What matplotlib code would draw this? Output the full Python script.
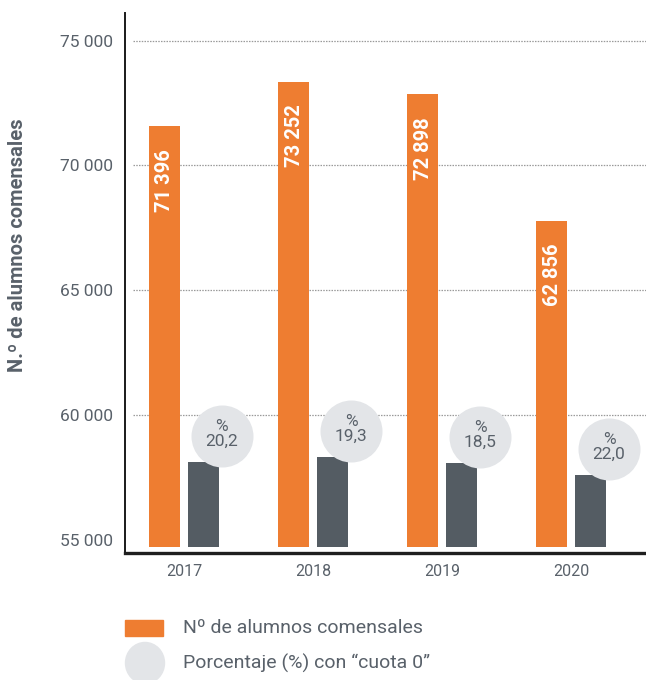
import matplotlib
matplotlib.use("Agg")
import matplotlib.pyplot as plt
import matplotlib.transforms as mtransforms
from matplotlib.patches import Rectangle, Circle

plt.rcParams['font.family'] = ['Roboto', 'DejaVu Sans']

# ---- data ----
years = ["2017", "2018", "2019", "2020"]
alumnos_bar = [71580, 73360, 72865, 67780]          # orange bar heights as drawn
alumnos_labels = ["71 396", "73 252", "72 898", "62 856"]
cuota0_bar = [58120, 58320, 58080, 57600]           # dark bar heights as drawn
cuota0_labels = ["20,2", "19,3", "18,5", "22,0"]
yticks = [55000, 60000, 65000, 70000, 75000]
ytick_labels = ["55 000", "60 000", "65 000", "70 000", "75 000"]
grid_vals = [60000, 65000, 70000, 75000]
legend_labels = ["Nº de alumnos comensales", "Porcentaje (%) con \u201ccuota 0\u201d"]

ORANGE = "#ee7d31"
DARK = "#545c63"
LIGHT = "#e3e5e8"
TXT = "#59616a"

W, H, DPI = 646, 680, 100
fig = plt.figure(figsize=(W / DPI, H / DPI), dpi=DPI)
ax = fig.add_axes([125 / W, (H - 553) / H, 1 - 125 / W, (553 - 13) / H])

ax.set_xlim(-0.457, 3.581)
ax.set_ylim(54472, 76110)

x = list(range(len(years)))
bw = 0.240
off = 0.151
base = 54710

ax.hlines(grid_vals, -0.395, 3.581, colors="#9a9a9a", linestyles=(0, (1.2, 1.0)),
          linewidth=0.9, zorder=1)

ax.bar([i - off for i in x], [v - base for v in alumnos_bar], bottom=base, width=bw,
       color=ORANGE, zorder=2)
ax.bar([i + off for i in x], [v - base for v in cuota0_bar], bottom=base, width=bw,
       color=DARK, zorder=2)

# value labels in orange bars
lab_tr = mtransforms.offset_copy(ax.transData, fig=fig, x=0.5, y=-23, units='dots')
for i, v, s in zip(x, alumnos_bar, alumnos_labels):
    ax.text(i - off, v, s, rotation=90, ha='center', va='top', color='white',
            fontsize=14.5, fontweight='bold', transform=lab_tr, zorder=4)

# circles with percentages
circ_tr = mtransforms.offset_copy(ax.transData, fig=fig, x=3, y=26, units='dots')
txt_tr = mtransforms.offset_copy(ax.transData, fig=fig, x=3, y=28, units='dots')
circ_pts = 62 * 72 / DPI
for i, v, s in zip(x, cuota0_bar, cuota0_labels):
    xr = i + off + bw / 2
    ax.scatter([xr], [v], s=circ_pts ** 2, color=LIGHT, transform=circ_tr, zorder=3,
               linewidths=0, clip_on=False)
    ax.text(xr, v, "%\n" + s, ha='center', va='center', color=TXT, fontsize=12.5,
            linespacing=1.05, transform=txt_tr, zorder=4)

ax.set_xticks(x)
ax.set_xticklabels(years, fontsize=11.5, color=TXT)
ax.set_yticks(yticks)
ax.set_yticklabels(ytick_labels, fontsize=12.5, color=TXT)
ax.tick_params(axis='both', length=0)
ax.tick_params(axis='y', pad=9)
ax.tick_params(axis='x', pad=8)

for sp in ['top', 'right']:
    ax.spines[sp].set_visible(False)
ax.spines['left'].set_linewidth(1.4)
ax.spines['left'].set_color('#1a1a1a')
ax.spines['bottom'].set_linewidth(2.4)
ax.spines['bottom'].set_color('#1f1f1f')

fig.text(18 / W, 1 - 245 / H, "N.º de alumnos comensales", rotation=90, ha='center',
         va='center', fontsize=14.5, fontweight='bold', color=TXT)

# legend
fig.patches.append(Rectangle((125 / W, 1 - 636 / H), 38 / W, 16 / H, color=ORANGE,
                             transform=fig.transFigure))
fig.patches.append(Circle((145 / W, 1 - 663 / H), 19.5 / W, color=LIGHT,
                          transform=fig.transFigure))
fig.text(183 / W, 1 - 628 / H, legend_labels[0], ha='left', va='center', fontsize=14, color=TXT)
fig.text(183 / W, 1 - 663 / H, legend_labels[1], ha='left', va='center', fontsize=14, color=TXT)

fig.savefig("out.png", dpi=DPI)
